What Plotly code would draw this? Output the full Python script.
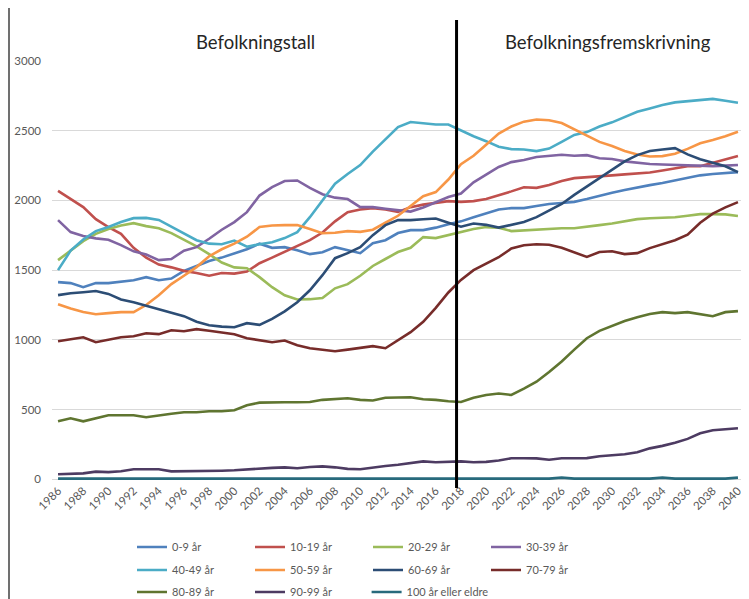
import plotly.graph_objects as go

years = list(range(1986, 2041))

age_0_9 = [1414, 1407, 1378, 1407, 1407, 1415, 1428, 1450, 1428, 1440, 1495, 1530, 1565, 1590, 1622,
           1650, 1690, 1660, 1665, 1643, 1615, 1629, 1665, 1643, 1622, 1694, 1715, 1766, 1787, 1787,
           1805, 1830, 1850, 1880, 1910, 1935, 1945, 1945, 1960, 1975, 1982, 1990, 2010, 2035, 2055,
           2075, 2095, 2110, 2125, 2145, 2160, 2180, 2190, 2198, 2203]
age_10_19 = [2069, 2010, 1952, 1866, 1809, 1760, 1660, 1590, 1540, 1520, 1495, 1480, 1460, 1480, 1475,
             1490, 1550, 1590, 1630, 1675, 1715, 1770, 1850, 1915, 1935, 1945, 1935, 1918, 1952, 1970,
             1985, 1995, 1990, 1995, 2010, 2035, 2065, 2095, 2090, 2110, 2140, 2160, 2165, 2172, 2180,
             2187, 2195, 2200, 2215, 2232, 2245, 2246, 2270, 2295, 2318]
age_20_29 = [1572, 1643, 1708, 1760, 1795, 1820, 1837, 1816, 1801, 1766, 1720, 1670, 1615, 1555, 1520,
             1514, 1450, 1378, 1320, 1290, 1292, 1300, 1370, 1400, 1460, 1530, 1580, 1630, 1660, 1737,
             1730, 1751, 1770, 1795, 1809, 1805, 1780, 1785, 1794, 1800, 1801, 1801, 1810, 1823, 1835,
             1850, 1866, 1872, 1875, 1880, 1890, 1902, 1902, 1900, 1888]
age_30_39 = [1859, 1773, 1745, 1728, 1718, 1680, 1635, 1612, 1572, 1580, 1640, 1665, 1725, 1790, 1845,
             1916, 2035, 2096, 2139, 2143, 2090, 2045, 2020, 2010, 1952, 1952, 1940, 1928, 1920, 1950,
             1988, 2024, 2050, 2130, 2185, 2240, 2275, 2290, 2311, 2320, 2328, 2320, 2325, 2302, 2297,
             2280, 2268, 2261, 2258, 2255, 2252, 2250, 2246, 2250, 2254]
age_40_49 = [1500, 1640, 1720, 1780, 1810, 1845, 1873, 1875, 1860, 1810, 1760, 1715, 1690, 1686, 1712,
             1668, 1686, 1700, 1730, 1773, 1880, 2000, 2120, 2190, 2254, 2350, 2440, 2526, 2562, 2555,
             2545, 2545, 2500, 2460, 2425, 2385, 2368, 2365, 2354, 2372, 2420, 2470, 2490, 2530, 2560,
             2600, 2636, 2660, 2685, 2703, 2712, 2720, 2728, 2715, 2701]
age_50_59 = [1256, 1225, 1200, 1184, 1192, 1199, 1199, 1250, 1320, 1400, 1460, 1522, 1600, 1650, 1690,
             1740, 1809, 1820, 1823, 1823, 1795, 1765, 1768, 1780, 1775, 1790, 1840, 1890, 1960, 2030,
             2060, 2150, 2260, 2320, 2400, 2480, 2530, 2565, 2580, 2575, 2555, 2510, 2470, 2420, 2390,
             2355, 2330, 2315, 2318, 2335, 2370, 2410, 2433, 2460, 2493]
age_60_69 = [1321, 1335, 1342, 1350, 1330, 1290, 1270, 1245, 1215, 1190, 1170, 1130, 1105, 1095, 1091,
             1120, 1108, 1150, 1205, 1270, 1356, 1464, 1586, 1622, 1665, 1751, 1823, 1859, 1859, 1865,
             1870, 1840, 1812, 1835, 1825, 1805, 1825, 1845, 1880, 1925, 1975, 2040, 2100, 2160, 2215,
             2280, 2325, 2354, 2365, 2375, 2330, 2295, 2270, 2245, 2203]
age_70_79 = [990, 1005, 1019, 983, 1000, 1019, 1026, 1048, 1041, 1069, 1062, 1077, 1065, 1055, 1040,
             1012, 998, 983, 995, 962, 940, 928, 919, 930, 940, 955, 940, 998, 1055, 1130,
             1230, 1340, 1430, 1500, 1545, 1593, 1655, 1679, 1686, 1682, 1660, 1630, 1595, 1630, 1636,
             1615, 1622, 1658, 1685, 1715, 1755, 1840, 1905, 1950, 1988]
age_80_89 = [416, 438, 416, 440, 459, 460, 459, 445, 455, 470, 481, 481, 488, 488, 495,
             531, 550, 553, 553, 553, 555, 570, 578, 581, 570, 565, 585, 589, 589, 574,
             570, 560, 555, 585, 605, 615, 605, 650, 700, 770, 845, 930, 1012, 1065, 1100,
             1135, 1163, 1185, 1199, 1192, 1199, 1185, 1170, 1199, 1206]
age_90_99 = [36, 38, 43, 55, 52, 58, 72, 72, 72, 57, 57, 57, 58, 62, 65,
             72, 79, 82, 86, 79, 88, 93, 86, 75, 72, 86, 95, 105, 115, 129,
             122, 125, 129, 122, 125, 135, 151, 151, 150, 140, 151, 151, 152, 165, 172,
             180, 194, 222, 240, 262, 290, 330, 352, 360, 366]
age_100 = [5, 5, 5, 5, 5, 5, 5, 5, 5, 5, 5, 5, 5, 5, 5,
           5, 5, 5, 5, 5, 5, 5, 5, 5, 5, 5, 5, 5, 5, 5,
           5, 5, 5, 5, 5, 5, 5, 5, 5, 5, 12, 5, 5, 5, 5,
           5, 10, 5, 12, 5, 5, 5, 5, 5, 12]

series_names = ["0-9 år", "10-19 år", "20-29 år", "30-39 år",
                "40-49 år", "50-59 år", "60-69 år", "70-79 år",
                "80-89 år", "90-99 år", "100 år eller eldre"]
series_values = [age_0_9, age_10_19, age_20_29, age_30_39, age_40_49, age_50_59,
                 age_60_69, age_70_79, age_80_89, age_90_99, age_100]
colors = ["#4F81BD", "#C0504D", "#9BBB59", "#8064A2", "#4BACC6", "#F79646",
          "#2C4D75", "#772C2A", "#5F7530", "#4D3B62", "#276A7C"]
legend_ids = ["legend"] * 4 + ["legend2"] * 4 + ["legend3"] * 2 + ["legend4"]

x_ticks = list(range(1986, 2041, 2))
y_ticks = [0, 500, 1000, 1500, 2000, 2500, 3000]
split_year = 2017.65

FONT = "Lato, Carlito, Liberation Sans, sans-serif"
GREY = "#595959"

fig = go.Figure()
for name, vals, col, lg in zip(series_names, series_values, colors, legend_ids):
    fig.add_trace(go.Scatter(x=years, y=vals, mode="lines", name=name,
                             line=dict(color=col, width=2.6), legend=lg))

# the page body has an 8px margin; work in screenshot pixels and shift by it
OFF = 8
W, H = 749 - OFF, 599 - OFF
ml, mr, mt, mb = 52 - OFF, 6, 61 - OFF, 118
pw = W - ml - mr
ph = H - mt - mb

def px_to_paper_x(px):
    return (px - OFF - ml) / pw

def py_to_paper_y(py):
    return (H - mb - (py - OFF)) / ph

def px_to_cont_x(px):
    return (px - OFF) / W

def py_to_cont_y(py):
    return 1 - (py - OFF) / H

legend_common = dict(orientation="h", xanchor="left", yanchor="middle",
                     xref="container", yref="container",
                     font=dict(family=FONT, size=11, color=GREY),
                     itemwidth=30, entrywidthmode="pixels", entrywidth=73,
                     bgcolor="rgba(0,0,0,0)", tracegroupgap=0, itemclick=False)
legend_last = dict(legend_common)
legend_last["entrywidth"] = 0

col_x = 132
col_step = 117.3
fig.update_layout(
    width=W, height=H,
    margin=dict(l=ml, r=mr, t=mt, b=mb, autoexpand=False),
    paper_bgcolor="white", plot_bgcolor="white",
    font=dict(family=FONT, size=11, color=GREY),
    xaxis=dict(range=[1985.52, 2040.4], tickvals=x_ticks, ticktext=[str(v) for v in x_ticks],
               tickangle=-45, showgrid=False, zeroline=False, showline=False,
               tickfont=dict(family=FONT, size=11.5, color=GREY), ticks="", automargin=False),
    yaxis=dict(range=[-12, 3000], tickvals=y_ticks, showgrid=True, gridcolor="#D9D9D9",
               gridwidth=1, zeroline=False, showline=False, ticks="", automargin=False,
               tickfont=dict(family=FONT, size=11.5, color=GREY), ticklabelstandoff=10),
    legend=dict(x=px_to_cont_x(col_x), y=py_to_cont_y(547), **legend_common),
    legend2=dict(x=px_to_cont_x(col_x), y=py_to_cont_y(570), **legend_common),
    legend3=dict(x=px_to_cont_x(col_x), y=py_to_cont_y(592), **legend_common),
    legend4=dict(x=px_to_cont_x(col_x + 2 * col_step), y=py_to_cont_y(592), **legend_last),
    showlegend=True,
)

fig.add_annotation(text="Befolkningstall", x=px_to_paper_x(255), y=py_to_paper_y(42),
                   xref="paper", yref="paper", showarrow=False, xanchor="center", yanchor="middle",
                   font=dict(family=FONT, size=18.5, color="#262626"))
fig.add_annotation(text="Befolkningsfremskrivning", x=px_to_paper_x(608), y=py_to_paper_y(42),
                   xref="paper", yref="paper", showarrow=False, xanchor="center", yanchor="middle",
                   font=dict(family=FONT, size=18.5, color="#262626"))

fig.add_shape(type="line", xref="x", yref="paper", x0=split_year, x1=split_year,
              y0=py_to_paper_y(488), y1=py_to_paper_y(20), line=dict(color="black", width=3))
fig.add_shape(type="line", xref="paper", yref="paper", x0=px_to_paper_x(9), x1=px_to_paper_x(9),
              y0=py_to_paper_y(600), y1=py_to_paper_y(8), line=dict(color="#404040", width=1.5))

fig.write_html("out.html")
